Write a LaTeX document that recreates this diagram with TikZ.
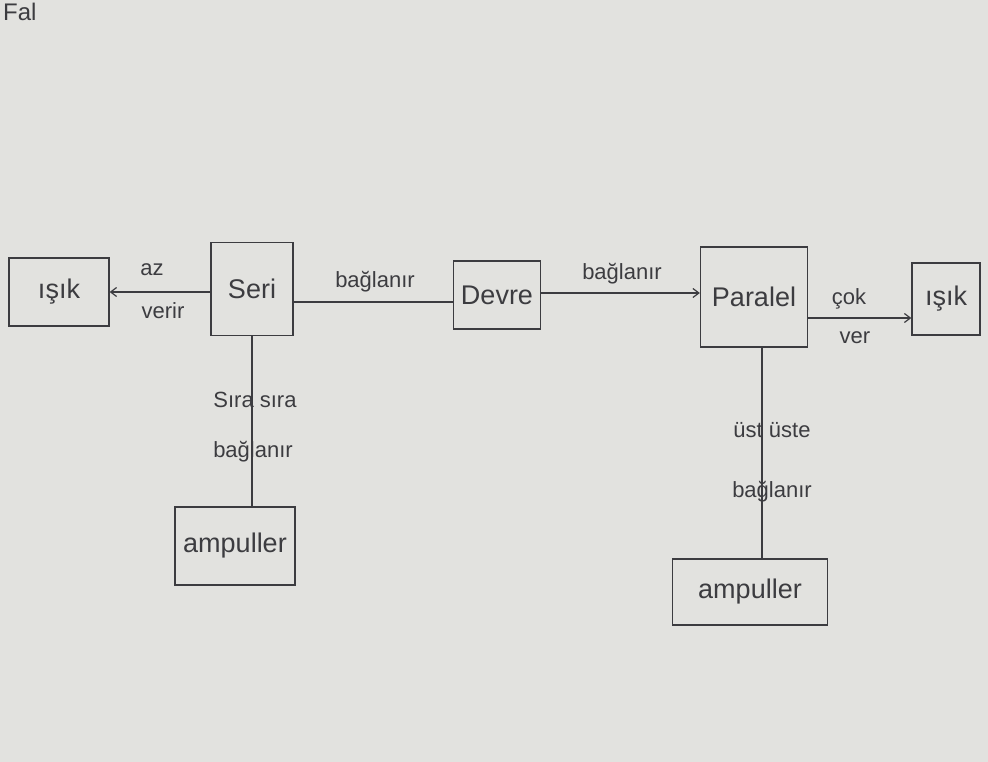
\documentclass[tikz,border=0pt]{standalone}
\usepackage{fontspec}
\setmainfont{Liberation Sans}
\usetikzlibrary{arrows.meta}
\definecolor{paper}{RGB}{226,226,223}
\definecolor{ink}{RGB}{60,60,64}
\begin{document}
\begin{tikzpicture}[x=1pt,y=-1pt,
  box/.style={draw=ink,line width=1.2pt,text=ink,inner sep=0pt,font=\fontsize{27}{31}\selectfont},
  conn/.style={draw=ink,line width=1.2pt},
  arr/.style={conn,-{Straight Barb[length=6pt,width=9pt]}},
  lbl/.style={text=ink,font=\fontsize{22}{25}\selectfont,inner sep=1pt}]
\fill[paper] (0,0) rectangle (988,762);
\useasboundingbox (0,0) rectangle (988,762);
\node[lbl,anchor=north west,font=\fontsize{24}{28}\selectfont] (fal) at (2,2) {Fal};
% boxes
\node[box,minimum width=100pt,minimum height=68pt] (isik1) at (59,292) {ışık};
\node[box,minimum width=82pt,minimum height=93pt] (seri) at (252,289) {Seri};
\node[box,minimum width=87pt,minimum height=68pt] (devre) at (497,295) {Devre};
\node[box,minimum width=107pt,minimum height=100pt] (paralel) at (754,297) {Paralel};
\node[box,minimum width=68pt,minimum height=72pt] (isik2) at (946,299) {ışık};
\node[box,minimum width=120pt,minimum height=78pt] (amp1) at (235,546) {ampuller};
\node[box,minimum width=155pt,minimum height=66pt] (amp2) at (750,592) {ampuller};
% connectors
\draw[arr] (seri.west |- 0,292) -- (isik1.east |- 0,292);
\node[lbl] (az) at (152,270) {az};
\node[lbl] (verir) at (163,311) {verir};
\draw[conn] (seri.east |- 0,302) -- (devre.west |- 0,302);
\node[lbl] (bag1) at (375,282) {bağlanır};
\draw[arr] (devre.east |- 0,293) -- (paralel.west |- 0,293);
\node[lbl] (bag2) at (622,274) {bağlanır};
\draw[arr] (paralel.east |- 0,318) -- (isik2.west |- 0,318);
\node[lbl] (cok) at (849,299) {çok};
\node[lbl] (ver) at (855,338) {ver};
\draw[conn] (seri.south) -- (amp1.north -| seri.south);
\node[lbl] (sira) at (255,400) {Sıra sıra};
\node[lbl] (bag3) at (253,452) {bağlanır};
\coordinate (pdown) at (762,0);
\draw[conn] (paralel.south -| pdown) -- (amp2.north -| pdown);
\node[lbl] (ust) at (772,430) {üst üste};
\node[lbl] (bag4) at (772,492) {bağlanır};
\end{tikzpicture}
\end{document}
